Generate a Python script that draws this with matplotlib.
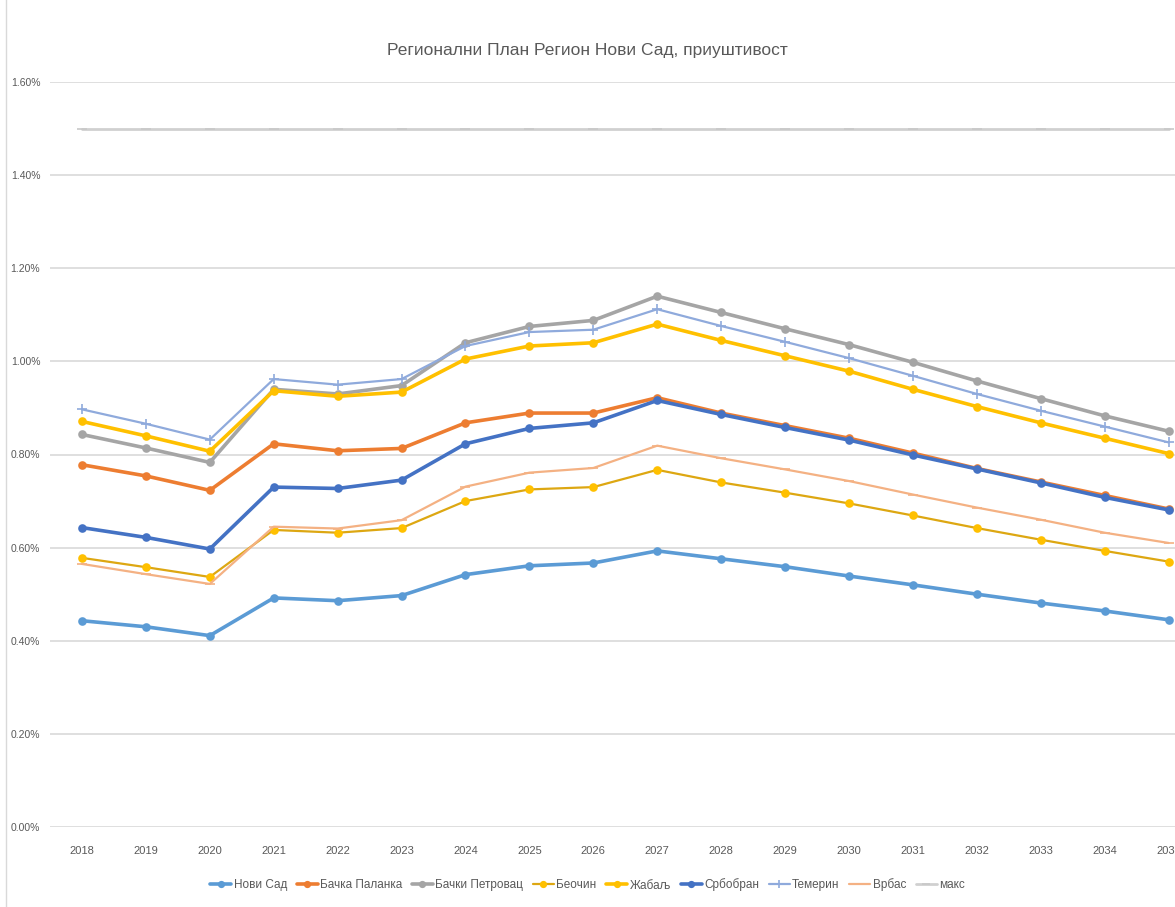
import matplotlib
matplotlib.use("Agg")
import matplotlib.pyplot as plt
from matplotlib.ticker import FuncFormatter
from matplotlib.lines import Line2D

plt.rcParams['font.family'] = ['Liberation Sans', 'DejaVu Sans']

years = [str(y) for y in range(2018, 2036)]

novi_sad = [0.443, 0.430, 0.411, 0.492, 0.486, 0.497, 0.542, 0.561, 0.567, 0.593,
            0.576, 0.559, 0.539, 0.520, 0.500, 0.481, 0.464, 0.445]
backa_palanka = [0.778, 0.754, 0.723, 0.823, 0.808, 0.813, 0.868, 0.889, 0.889, 0.922,
                 0.889, 0.862, 0.835, 0.803, 0.770, 0.741, 0.712, 0.683]
backi_petrovac = [0.843, 0.814, 0.783, 0.940, 0.930, 0.948, 1.040, 1.075, 1.088, 1.140,
                  1.105, 1.070, 1.036, 0.998, 0.958, 0.920, 0.883, 0.850]
beocin = [0.578, 0.558, 0.537, 0.638, 0.632, 0.642, 0.700, 0.725, 0.730, 0.767,
          0.740, 0.718, 0.695, 0.669, 0.642, 0.617, 0.593, 0.570]
zabalj = [0.871, 0.840, 0.807, 0.937, 0.925, 0.934, 1.005, 1.033, 1.040, 1.080,
          1.045, 1.012, 0.979, 0.940, 0.903, 0.868, 0.835, 0.802]
srbobran = [0.643, 0.622, 0.597, 0.730, 0.727, 0.745, 0.823, 0.856, 0.868, 0.916,
            0.886, 0.858, 0.831, 0.799, 0.769, 0.739, 0.708, 0.681]
temerin = [0.897, 0.866, 0.832, 0.962, 0.950, 0.962, 1.033, 1.063, 1.068, 1.112,
           1.076, 1.042, 1.007, 0.969, 0.930, 0.894, 0.860, 0.826]
vrbas = [0.565, 0.543, 0.522, 0.645, 0.641, 0.659, 0.731, 0.761, 0.771, 0.819,
         0.792, 0.768, 0.743, 0.714, 0.686, 0.660, 0.632, 0.610]
maks = [1.50] * 18

# (назив, вредности, боја линије, дебљина, маркер, боја маркера)
series = [
    ("Нови Сад", novi_sad, "#5B9BD5", 2.6, "o", "#5B9BD5"),
    ("Бачка Паланка", backa_palanka, "#ED7D31", 2.6, "o", "#ED7D31"),
    ("Бачки Петровац", backi_petrovac, "#A5A5A5", 2.6, "o", "#A5A5A5"),
    ("Беочин", beocin, "#DDA712", 1.6, "o", "#FFC000"),
    ("Жабаљ", zabalj, "#FFC000", 2.6, "o", "#FFC000"),
    ("Србобран", srbobran, "#4472C4", 2.6, "o", "#4472C4"),
    ("Темерин", temerin, "#8FAADC", 1.6, "+", "#8FAADC"),
    ("Врбас", vrbas, "#F4B183", 1.6, "_", "#F4B183"),
    ("макс", maks, "#D0D0D0", 2.0, "_", "#C8C8C8"),
]

fig = plt.figure(figsize=(11.75, 9.07), dpi=100)
ax = fig.add_axes([50 / 1175, 80 / 907, 1 - 50 / 1175, 745 / 907])

x = list(range(len(years)))
for name, vals, col, lw, mk, mcol in series:
    ms = 5 if mk == "o" else 7
    ax.plot(x, vals, color=col, linewidth=lw, marker=mk, markersize=ms,
            markerfacecolor=mcol, markeredgecolor=mcol, markeredgewidth=1.2,
            label=name, solid_capstyle="round", zorder=3)

ax.set_ylim(0, 1.6)
ax.set_xlim(-0.5, 17.1)
ax.set_yticks([0, 0.2, 0.4, 0.6, 0.8, 1.0, 1.2, 1.4, 1.6])
ax.yaxis.set_major_formatter(FuncFormatter(lambda v, p: f"{v:.2f}%"))
ax.set_xticks(x)
ax.set_xticklabels(years)
ax.tick_params(axis="both", length=0, labelsize=8, colors="#595959")
ax.tick_params(axis="y", labelsize=7.5, pad=7)
ax.tick_params(axis="x", pad=14)
ax.grid(axis="y", color="#D9D9D9", linewidth=1.2, zorder=0)
for s in ax.spines.values():
    s.set_visible(False)
ax.set_axisbelow(True)

fig.text(0.5, 1 - 50 / 907, "Регионални План Регион Нови Сад, приуштивост",
         ha="center", va="center", fontsize=12.5, color="#595959")

# граница области графикона
fig.add_artist(Line2D([6 / 1175, 6 / 1175], [0, 1], color="#D9D9D9", linewidth=1.0))

ax.legend(loc="center", bbox_to_anchor=(0.5, 1 - 885 / 907), bbox_transform=fig.transFigure,
          ncol=9, frameon=False, fontsize=8.5, labelcolor="#595959", markerscale=0.8,
          handlelength=1.8, handletextpad=0.2, columnspacing=0.8)

fig.savefig("out.png", dpi=100)
